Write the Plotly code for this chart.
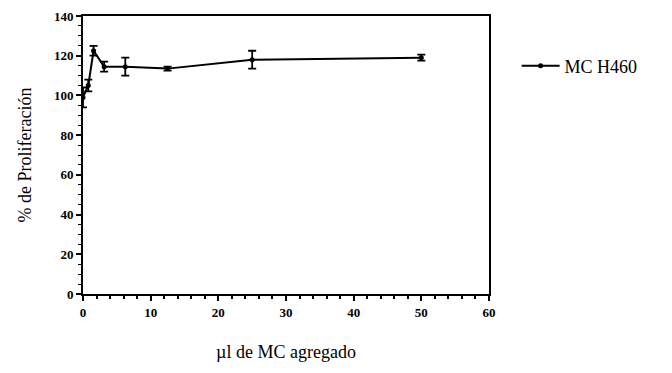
import plotly.graph_objects as go

dose = [0, 0.78, 1.56, 3.125, 6.25, 12.5, 25, 50]
prolif = [99, 105, 122.5, 114.5, 114.5, 113.5, 118, 119]
err = [5, 3, 2.5, 2.5, 4.5, 1, 4.5, 1.5]

x_ticks = [0, 10, 20, 30, 40, 50, 60]
y_ticks = [0, 20, 40, 60, 80, 100, 120, 140]

fig = go.Figure()
fig.add_trace(go.Scatter(
    x=dose, y=prolif, mode="lines+markers", name="MC H460",
    line=dict(color="black", width=2),
    marker=dict(color="black", size=5, symbol="circle"),
    error_y=dict(type="data", array=err, visible=True, color="black", thickness=1.8, width=4),
))

font_tick = dict(family="Liberation Serif, serif", size=13, color="black")
fig.update_layout(
    width=672, height=373,
    paper_bgcolor="white", plot_bgcolor="white",
    margin=dict(l=75, r=191, t=8, b=87, autoexpand=False),
    showlegend=True,
    legend=dict(x=1.068, y=0.82, xanchor="left", yanchor="middle",
                font=dict(family="Liberation Serif, serif", size=18, color="black"),
                bgcolor="rgba(0,0,0,0)", itemwidth=38),
    xaxis=dict(range=[0, 60], tickvals=x_ticks, ticktext=[f"<b>{v}</b>" for v in x_ticks],
               automargin=False,
               showgrid=False, zeroline=False, showline=True, linecolor="black", linewidth=2,
               mirror=True, ticks="outside", ticklen=5, tickwidth=2, tickcolor="black",
               minor=dict(ticks="outside", dtick=2, ticklen=3, tickwidth=1.5, tickcolor="black"),
               tickfont=font_tick,
               title=dict(text="µl de MC agregado", standoff=27,
                          font=dict(family="Liberation Serif, serif", size=18, color="black"))),
    yaxis=dict(range=[0, 140], tickvals=y_ticks, ticktext=[f"<b>{v}</b>" for v in y_ticks],
               automargin=False,
               showgrid=False, zeroline=False, showline=True, linecolor="black", linewidth=2,
               mirror=True, ticks="outside", ticklen=5, tickwidth=2, tickcolor="black",
               minor=dict(ticks="outside", dtick=5, ticklen=3, tickwidth=1, tickcolor="black"),
               tickfont=font_tick,
               title=dict(text="% de Proliferación", standoff=18,
                          font=dict(family="Liberation Serif, serif", size=18, color="black"))),
)

fig.write_html("out.html")
